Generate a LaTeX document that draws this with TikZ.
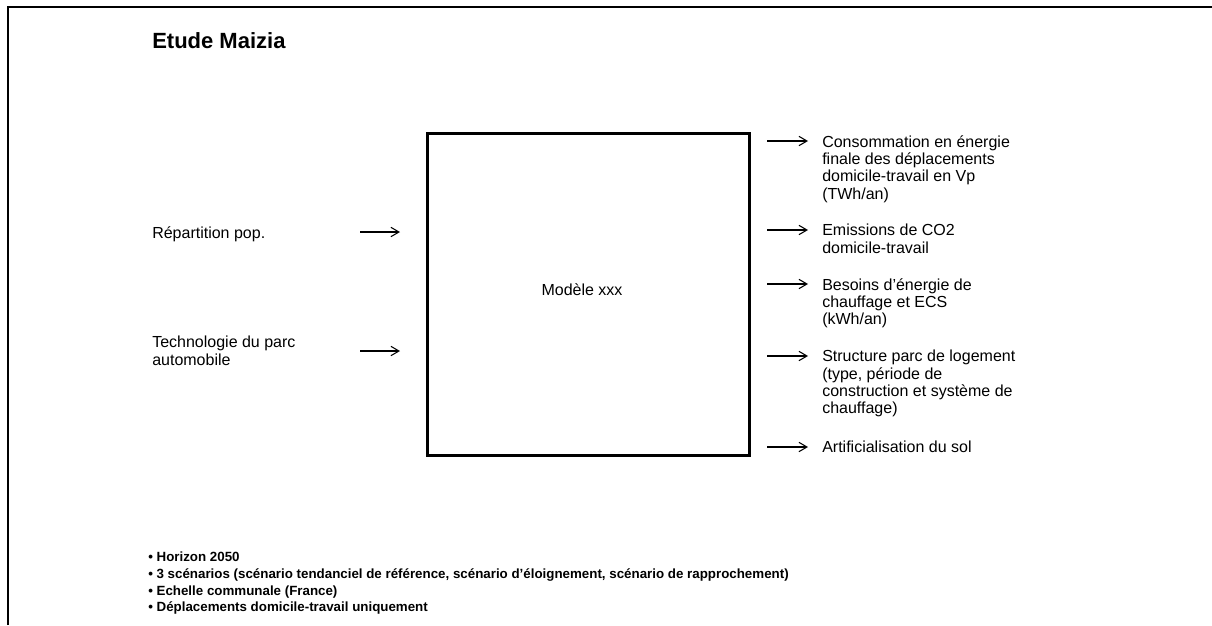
\documentclass[tikz,border=0pt]{standalone}
\usepackage{fontspec}
\setmainfont{Liberation Sans}
\usetikzlibrary{positioning, arrows.meta}

\tikzset{
  fleche/.style={-{Straight Barb[length=6pt,width=7pt]}, line width=0.8pt},
  texte/.style={inner sep=0pt, align=left, font=\fontsize{12}{13}\selectfont},
  entree/.style={texte, anchor=north west},
  sortie/.style={texte, anchor=north west},
  puces/.style={inner sep=0pt, align=left, anchor=north west, font=\bfseries\fontsize{10}{12.4}\selectfont},
}

\begin{document}
\begin{tikzpicture}[x=0.75pt, y=-0.75pt]
    \useasboundingbox (0,0) rectangle (1212,625);

    % Cadre
    \draw[line width=2pt] (8,625) -- (8,7) -- (1212,7);

    % Titre
    \node[inner sep=0pt, anchor=west, font=\bfseries\fontsize{16.5}{19}\selectfont] (titre) at (152,41) {Etude Maizia};

    % Modele
    \node[draw, line width=2.25pt, minimum width=241.5pt, minimum height=241.5pt] (modele) at (588,294) {};
    \node[texte] (nommodele) at ([xshift=-4.5pt, yshift=3.5pt]modele.center) {Modèle xxx};

    % Entrees
    \node[entree] (repart) at (152,226) {Répartition pop.};
    \node[entree] (techno) at (152,336) {Technologie du parc\\automobile};
    \foreach \y [count=\i] in {232,351} {
        \coordinate (e\i a) at (360,\y);
        \coordinate (e\i b) at (400,\y);
        \draw[fleche] (e\i a) -- (e\i b);
    }

    % Sorties
    \foreach \y/\txt [count=\i] in {
        141/{Consommation en énergie\\finale des déplacements\\domicile-travail en Vp\\(TWh/an)},
        230/{Emissions de CO2\\domicile-travail},
        284/{Besoins d’énergie de\\chauffage et ECS\\(kWh/an)},
        356/{Structure parc de logement\\(type, période de\\construction et système de\\chauffage)},
        447/{Artificialisation du sol}} {
        \coordinate (s\i a) at (767,\y);
        \coordinate (s\i b) at (808,\y);
        \draw[fleche] (s\i a) -- (s\i b);
        \node[sortie] (sortie\i) at (822,\y-6) {\txt};
    }

    % Hypotheses
    \node[puces] (hypo) at (148,552) {\textbullet\ Horizon 2050\\
        \textbullet\ 3 scénarios (scénario tendanciel de référence, scénario d’éloignement, scénario de rapprochement)\\
        \textbullet\ Echelle communale (France)\\
        \textbullet\ Déplacements domicile-travail uniquement};
\end{tikzpicture}
\end{document}
